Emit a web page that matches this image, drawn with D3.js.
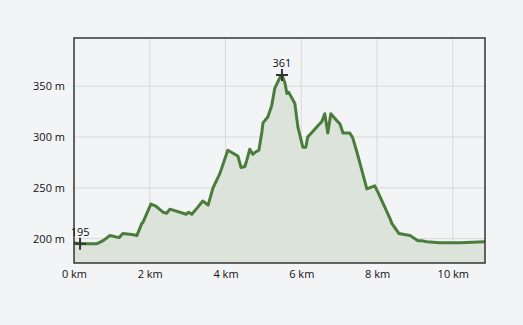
<!DOCTYPE html>
<html>
<head>
<meta charset="utf-8">
<script src="https://cdn.jsdelivr.net/npm/d3@7"></script>
<style>
  body { margin: 0; background: #f3f4f6; }
  text { font-family: "Open Sans", sans-serif; font-size: 11px; fill: #111; }
</style>
</head>
<body>
<div id="container"></div>
<script>
/* DATA */
const distKm = [0, 0.16, 0.61, 0.77, 0.95, 1.19, 1.29, 1.53, 1.66, 1.79, 1.82, 2.03, 2.16, 2.35, 2.45, 2.53,
  2.88, 2.96, 3.03, 3.11, 3.27, 3.40, 3.54, 3.67, 3.85, 4.06, 4.20, 4.33, 4.41, 4.51, 4.56, 4.64, 4.72,
  4.78, 4.88, 4.96, 4.99, 5.12, 5.22, 5.30, 5.44, 5.49, 5.57, 5.62, 5.67, 5.83, 5.91, 6.04, 6.12, 6.17,
  6.41, 6.54, 6.62, 6.70, 6.78, 6.94, 7.02, 7.10, 7.28, 7.36, 7.47, 7.63, 7.73, 7.94, 8.02, 8.34, 8.39,
  8.58, 8.87, 9.08, 9.18, 9.31, 9.66, 10.18, 10.85];
const elevM = [196, 195, 195, 198, 203, 201, 205, 204, 203, 215, 216, 234, 232, 226, 225, 229,
  225, 224, 226, 224, 231, 237, 233, 250, 264, 287, 284, 281, 270, 271, 277, 288, 283,
  285, 287, 305, 314, 320, 331, 348, 359, 361, 353, 343, 344, 333, 310, 290, 290, 300,
  310, 315, 323, 304, 323, 316, 313, 304, 304, 299, 285, 263, 249, 252, 246, 220, 215,
  205, 203, 198, 198, 197, 196, 196, 197];
const xTicks = [0, 2, 4, 6, 8, 10];
const yTicks = [200, 250, 300, 350];

/* CONSTANTS */
const W = 523, H = 325;
const margin = { top: 38, right: 38, bottom: 62, left: 74 };
const width = W - margin.left - margin.right;
const height = H - margin.top - margin.bottom;

const data = distKm.map((d, i) => ({ km: d, m: elevM[i] }));

const xScale = d3.scaleLinear().domain([0, 10.85]).range([0, width]);
const yScale = d3.scaleLinear().domain([176, 397.5]).range([height, 0]);

const svg = d3.select('#container')
  .append('svg')
  .attr('width', W)
  .attr('height', H);

const chart = svg.append('g')
  .attr('transform', `translate(${margin.left}, ${margin.top})`);

// grid
chart.selectAll('line.vgrid')
  .data(xTicks.slice(1))
  .join('line')
  .attr('x1', d => xScale(d)).attr('x2', d => xScale(d))
  .attr('y1', 0).attr('y2', height)
  .attr('stroke', '#d9d9d9').attr('stroke-width', 1);

chart.selectAll('line.hgrid')
  .data(yTicks)
  .join('line')
  .attr('x1', 0).attr('x2', width)
  .attr('y1', d => yScale(d)).attr('y2', d => yScale(d))
  .attr('stroke', '#d9d9d9').attr('stroke-width', 1);

// area + line
const area = d3.area()
  .x(d => xScale(d.km))
  .y0(height)
  .y1(d => yScale(d.m));

const line = d3.line()
  .x(d => xScale(d.km))
  .y(d => yScale(d.m));

chart.append('path')
  .datum(data)
  .attr('d', area)
  .attr('fill', '#dce3db');

chart.append('path')
  .datum(data)
  .attr('d', line)
  .attr('fill', 'none')
  .attr('stroke', '#4a7d3b')
  .attr('stroke-width', 3)
  .attr('stroke-linejoin', 'round');

// frame
chart.append('rect')
  .attr('width', width).attr('height', height)
  .attr('fill', 'none')
  .attr('stroke', '#333').attr('stroke-width', 1.5);

// axes
const xAxis = chart.append('g')
  .attr('transform', `translate(0, ${height})`)
  .call(d3.axisBottom(xScale).tickValues(xTicks).tickSize(0).tickPadding(7).tickFormat(d => d + ' km'));
xAxis.select('.domain').remove();

const yAxis = chart.append('g')
  .call(d3.axisLeft(yScale).tickValues(yTicks).tickSize(0).tickPadding(9).tickFormat(d => d + ' m'));
yAxis.select('.domain').remove();
chart.selectAll('.tick text').attr('fill', '#111').style('font-size', '11px');

// min / max markers
const minPt = data.reduce((a, b) => (b.m < a.m ? b : a));
const maxPt = data.reduce((a, b) => (b.m > a.m ? b : a));

[minPt, maxPt].forEach(p => {
  const cx = xScale(p.km), cy = yScale(p.m);
  chart.append('path')
    .attr('d', `M${cx - 6},${cy}H${cx + 6}M${cx},${cy - 6}V${cy + 6}`)
    .attr('stroke', '#333').attr('stroke-width', 2);
  chart.append('text')
    .attr('x', cx).attr('y', cy - 8)
    .attr('text-anchor', 'middle')
    .text(p.m);
});
</script>
</body>
</html>
